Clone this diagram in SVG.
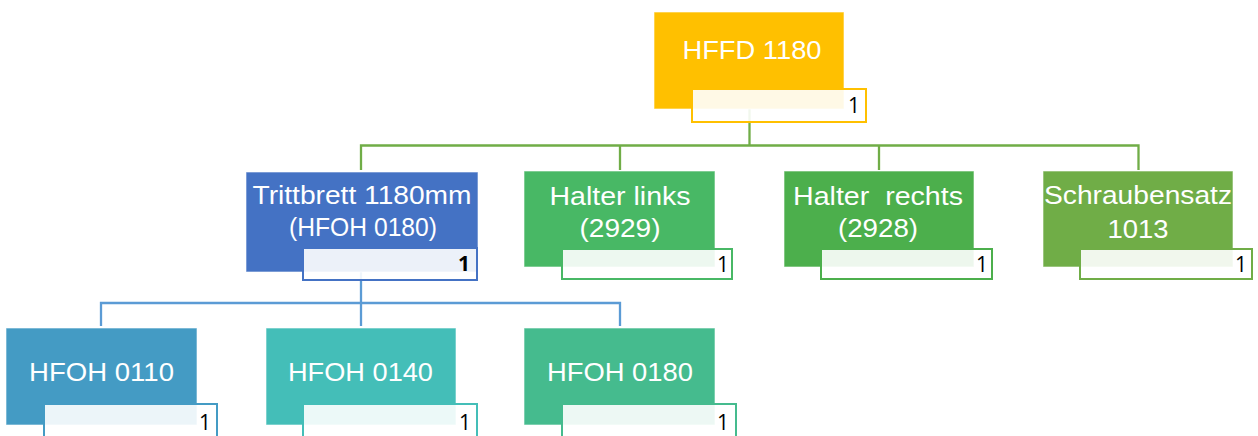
<svg xmlns="http://www.w3.org/2000/svg" width="1258" height="436" viewBox="0 0 1258 436">
<style>
.box{stroke:#ffffff;stroke-opacity:0.6;stroke-width:1}
.lbl{fill:#ffffff;fill-opacity:0.9;stroke-width:2}
.t{font-family:"Liberation Sans",Arial,sans-serif;font-size:26px;fill:#ffffff;text-anchor:middle}
.n{font-family:"Open Sans","Liberation Sans",sans-serif;font-size:21px;fill:#000000;text-anchor:end}
.cg{fill:none;stroke:#70AD47;stroke-width:2.3}
.cb{fill:none;stroke:#5B9BD5;stroke-width:2.3}
</style>
<rect width="1258" height="436" fill="#ffffff"/>
<g id="connectors">
<path class="cg" d="M749.5 109V145.5M361 170V145.5H1138.5V170M620 145.5V170M879 145.5V170"/>
<path class="cb" d="M361 272V303M101 326V303H620V326M361 303V326"/>
</g>
<g id="n-root">
<rect class="box" x="654" y="12" width="190" height="97" fill="#FFC000"/>
<text class="t" x="752" y="59" font-size="27" textLength="139" lengthAdjust="spacingAndGlyphs">HFFD 1180</text>
<rect class="lbl" x="692" y="89" width="174" height="33" stroke="#FFC000"/>
<text class="n" x="860" y="113">1</text>
</g>
<g id="n-trittbrett">
<rect class="box" x="246" y="172" width="232" height="100" fill="#4472C4"/>
<text class="t" x="362" y="204" textLength="219" lengthAdjust="spacingAndGlyphs">Trittbrett 1180mm</text>
<text class="t" x="363" y="236" textLength="148" lengthAdjust="spacingAndGlyphs">(HFOH 0180)</text>
<rect class="lbl" x="303" y="248" width="174" height="32" stroke="#4472C4"/>
<text class="n" x="470" y="271" font-weight="bold">1</text>
</g>
<g id="n-halter-links">
<rect class="box" x="524" y="171" width="191" height="96" fill="#48B865"/>
<text class="t" x="620" y="205" textLength="141" lengthAdjust="spacingAndGlyphs">Halter links</text>
<text class="t" x="620" y="237" textLength="81" lengthAdjust="spacingAndGlyphs">(2929)</text>
<rect class="lbl" x="562" y="249" width="170" height="30" stroke="#48B865"/>
<text class="n" x="729" y="272">1</text>
</g>
<g id="n-halter-rechts">
<rect class="box" x="784" y="171" width="190" height="96" fill="#4CAF4C"/>
<text class="t" x="878" y="205" textLength="170" lengthAdjust="spacingAndGlyphs" xml:space="preserve">Halter  rechts</text>
<text class="t" x="878" y="237" textLength="80" lengthAdjust="spacingAndGlyphs">(2928)</text>
<rect class="lbl" x="821" y="249" width="171" height="30" stroke="#4CAF4C"/>
<text class="n" x="988" y="272">1</text>
</g>
<g id="n-schraubensatz">
<rect class="box" x="1043" y="171" width="190" height="96" fill="#70AD47"/>
<text class="t" x="1138" y="204" textLength="188" lengthAdjust="spacingAndGlyphs">Schraubensatz</text>
<text class="t" x="1138" y="238" textLength="61" lengthAdjust="spacingAndGlyphs">1013</text>
<rect class="lbl" x="1080" y="249" width="172" height="30" stroke="#70AD47"/>
<text class="n" x="1247" y="272">1</text>
</g>
<g id="n-hfoh0110">
<rect class="box" x="6" y="328" width="191" height="97" fill="#449BC4"/>
<text class="t" x="101.5" y="381" textLength="145" lengthAdjust="spacingAndGlyphs">HFOH 0110</text>
<rect class="lbl" x="44" y="404" width="173" height="40" stroke="#449BC4"/>
<text class="n" x="211" y="430">1</text>
</g>
<g id="n-hfoh0140">
<rect class="box" x="266" y="328" width="190" height="97" fill="#44BEB8"/>
<text class="t" x="360.5" y="381" textLength="145" lengthAdjust="spacingAndGlyphs">HFOH 0140</text>
<rect class="lbl" x="303" y="404" width="174" height="40" stroke="#44BEB8"/>
<text class="n" x="471" y="430">1</text>
</g>
<g id="n-hfoh0180">
<rect class="box" x="524" y="328" width="191" height="97" fill="#45BB8E"/>
<text class="t" x="620" y="381" textLength="146" lengthAdjust="spacingAndGlyphs">HFOH 0180</text>
<rect class="lbl" x="562" y="404" width="174" height="40" stroke="#45BB8E"/>
<text class="n" x="729" y="430">1</text>
</g>
</svg>
